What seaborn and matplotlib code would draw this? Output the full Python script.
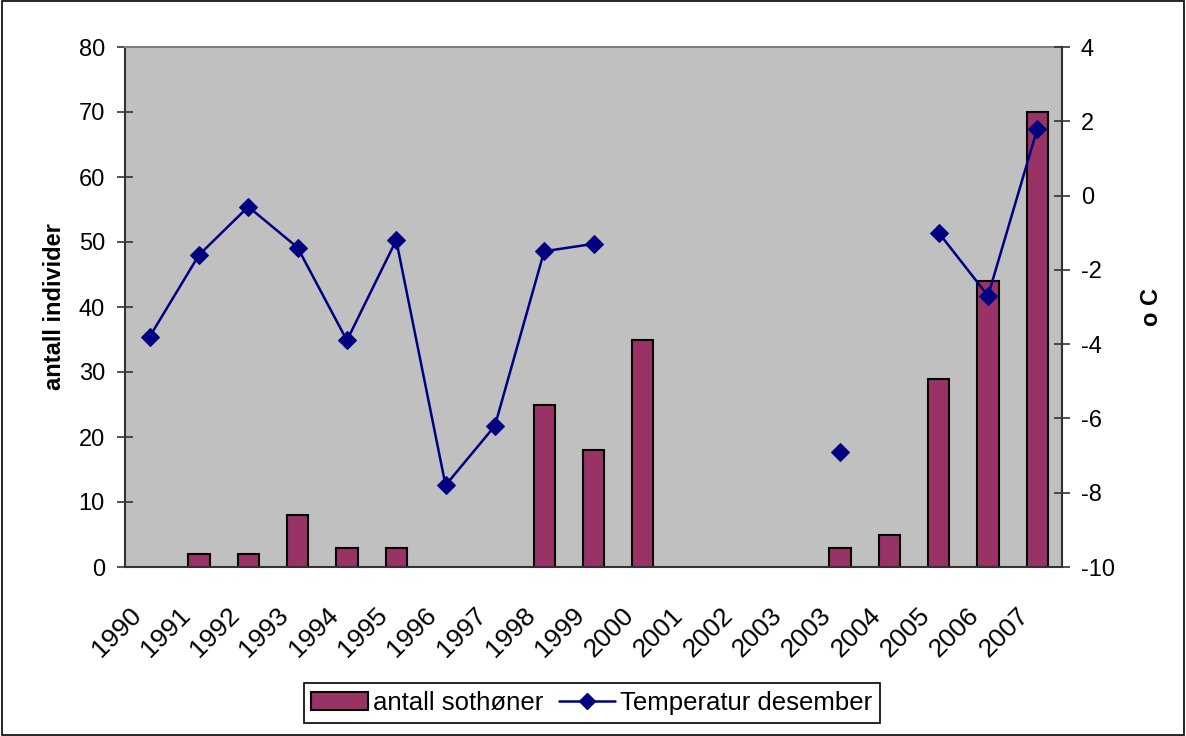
import numpy as np
import pandas as pd
import matplotlib
matplotlib.use("Agg")
import matplotlib.pyplot as plt
from matplotlib.patches import Patch, Rectangle
from matplotlib.lines import Line2D
from matplotlib.transforms import ScaledTranslation
import seaborn as sns

# Year labels along the category axis (2003 appears twice in the source table)
years = ["1990", "1991", "1992", "1993", "1994", "1995", "1996", "1997", "1998",
         "1999", "2000", "2001", "2002", "2003", "2003", "2004", "2005", "2006", "2007"]

# Number of birds counted per year (NaN = no count)
antall = [np.nan, 2, 2, 8, 3, 3, np.nan, np.nan, 25, 18, 35,
          np.nan, np.nan, np.nan, 3, 5, 29, 44, 70]

# Mean December temperature (°C), NaN where missing
temperatur = [-3.8, -1.6, -0.3, -1.4, -3.9, -1.2, -7.8, -6.2, -1.5, -1.3, np.nan,
              np.nan, np.nan, np.nan, -6.9, np.nan, -1.0, -2.7, 1.8]

left_ticks = [0, 10, 20, 30, 40, 50, 60, 70, 80]
right_ticks = [-10, -8, -6, -4, -2, 0, 2, 4]

bar_color = "#993366"
line_color = "#000080"
bg_color = "#C0C0C0"

pos = list(range(len(years)))
df_bar = pd.DataFrame({"pos": pos, "antall": antall})

# Split the temperature series into connected runs so gaps stay open
seg, s = [], 0
for i, v in enumerate(temperatur):
    if np.isnan(v) and i > 0 and not np.isnan(temperatur[i - 1]):
        s += 1
    seg.append(s)
df_line = pd.DataFrame({"pos": pos, "temp": temperatur, "seg": seg}).dropna()

sns.set_style("white")
plt.rcParams["font.family"] = ["Liberation Sans", "DejaVu Sans"]
plt.rcParams.update({"text.color": "black", "axes.labelcolor": "black",
                     "xtick.color": "black", "ytick.color": "black"})

fig = plt.figure(figsize=(11.86, 7.36), dpi=100)
ax = fig.add_axes([125 / 1186, 1 - 567 / 736, (1062 - 125) / 1186, (567 - 47) / 736])
ax.set_facecolor(bg_color)

sns.barplot(data=df_bar, x="pos", y="antall", ax=ax, color=bar_color,
            edgecolor="black", linewidth=1.5, width=0.43, saturation=1,
            native_scale=True, zorder=2)

ax.set_xlim(-0.5, len(years) - 0.5)
ax.set_ylim(0, 80)
ax.set_yticks(left_ticks)
ax.set_yticklabels([str(t) for t in left_ticks], fontsize=17)
ax.set_xticks(pos)
ax.set_xticklabels(years, rotation=45, ha="right", rotation_mode="anchor", fontsize=19)
ax.set_xticks(np.arange(-0.5, len(years), 1), minor=True)
ax.tick_params(axis="x", which="major", length=0, pad=26)
ax.tick_params(axis="x", which="minor", length=8, width=1.2, color="#333333", direction="out")
ax.tick_params(axis="y", length=11, width=1.2, color="#333333", direction="inout", pad=9)
ax.set_xlabel("")
ax.set_ylabel("antall individer", fontsize=17, fontweight="bold", labelpad=9)

# nudge the slanted year labels left so they end just before the category centres
shift = ScaledTranslation(-21 / 100, 0, fig.dpi_scale_trans)
for lbl in ax.get_xticklabels():
    lbl.set_transform(lbl.get_transform() + shift)

for side in ["left", "bottom"]:
    ax.spines[side].set_color("#333333")
    ax.spines[side].set_linewidth(1.5)
for side in ["top", "right"]:
    ax.spines[side].set_color("#808080")
    ax.spines[side].set_linewidth(1.5)

ax2 = ax.twinx()
sns.lineplot(data=df_line, x="pos", y="temp", units="seg", estimator=None, sort=False,
             ax=ax2, color=line_color, linewidth=1.8, marker="D", markersize=9,
             markeredgecolor=line_color, zorder=3)
ax2.set_ylim(-10, 4)
ax2.set_yticks(right_ticks)
ax2.set_yticklabels([str(t) for t in right_ticks], fontsize=17)
ax2.tick_params(axis="y", length=11, width=1.2, color="#333333", direction="inout", pad=8)
ax2.set_ylabel("o C", fontsize=17, fontweight="bold", labelpad=18)
ax2.set_xlabel("")
ax2.spines["right"].set_color("#333333")
ax2.spines["right"].set_linewidth(1.5)
for side in ["top", "left", "bottom"]:
    ax2.spines[side].set_visible(False)
ax2.set_xlim(-0.5, len(years) - 0.5)

handles = [Patch(facecolor=bar_color, edgecolor="black", linewidth=1.5),
           Line2D([0], [0], color=line_color, linewidth=1.8, marker="D", markersize=8)]
leg = fig.legend(handles, ["antall sothøner", "Temperatur desember"], loc="center",
                 bbox_to_anchor=(592 / 1186, 1 - 703 / 736), ncol=2, fontsize=18.5,
                 frameon=True, fancybox=False, edgecolor="black", framealpha=1,
                 handlelength=2.2, handletextpad=0.2, columnspacing=0.6, borderpad=0.3)
leg.get_frame().set_linewidth(1.2)

fig.patches.append(Rectangle((0.002, 0.002), 0.996, 0.996, transform=fig.transFigure,
                             fill=False, edgecolor="black", linewidth=1.2))

fig.savefig("out.png", dpi=100, facecolor="white")
